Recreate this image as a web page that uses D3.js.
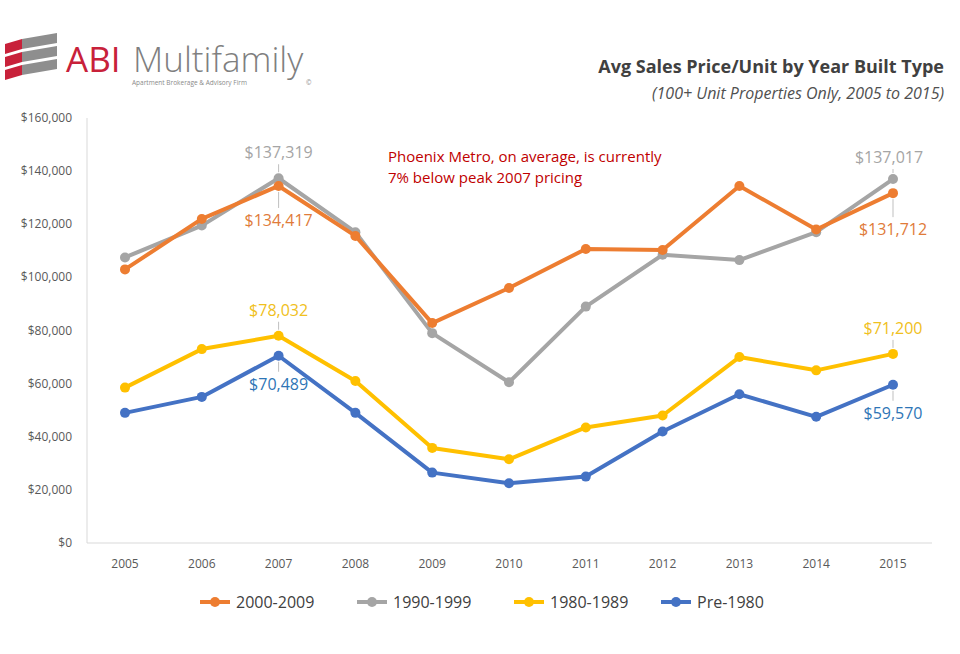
<!DOCTYPE html>
<html>
<head>
<meta charset="UTF-8">
<script src="https://d3js.org/d3.v7.min.js"></script>
<style>
  body { margin: 0; background: #fff; }
  text { font-family: "Open Sans", sans-serif; }
</style>
</head>
<body>
<svg class="chart"></svg>
<script>
var width = 960, height = 654;

var years = [2005, 2006, 2007, 2008, 2009, 2010, 2011, 2012, 2013, 2014, 2015];
var names = ["2000-2009", "1990-1999", "1980-1989", "Pre-1980"];
var colors = ["#ED7D31", "#A5A5A5", "#FFC000", "#4472C4"];
var labelColors = ["#E07B39", "#A5A5A5", "#F0C020", "#2E75B6"];
var s2000 = [103000, 122000, 134417, 115600, 82800, 96000, 110700, 110300, 134400, 118000, 131712];
var s1990 = [107500, 119500, 137319, 117000, 79000, 60500, 89000, 108500, 106500, 117000, 137017];
var s1980 = [58500, 73000, 78032, 61000, 35800, 31500, 43500, 48000, 70000, 65000, 71200];
var sPre = [49000, 55000, 70489, 49000, 26500, 22500, 25000, 42000, 56000, 47500, 59570];
var series = [s2000, s1990, s1980, sPre];
var yTicks = [0, 20000, 40000, 60000, 80000, 100000, 120000, 140000, 160000];

var svg = d3.select(".chart").attr("width", width).attr("height", height);

var x = d3.scalePoint().domain(years).range([125, 893]);
var y = d3.scaleLinear().domain([0, 160000]).range([543, 118]);

// logo
var logo = svg.append("g");
[0, 1, 2].forEach(function(i) {
  logo.append("path").attr("d", "M5," + (44 + i * 13) + " L22," + (39 + i * 13) + " L22," + (49 + i * 13) + " L5," + (54 + i * 13) + "Z").attr("fill", "#C8213A");
  logo.append("path").attr("d", "M22," + (39 + i * 13) + " L57," + (33 + i * 13) + " L57," + (43 + i * 13) + " L22," + (49 + i * 13) + "Z").attr("fill", "#8E8E8E");
});
logo.append("text").attr("x", 66).attr("y", 72).attr("font-size", 35).attr("fill", "#C8213A").text("ABI");
logo.append("text").attr("x", 133).attr("y", 72).attr("font-size", 35).attr("fill", "#7f7f7f").attr("font-weight", 300).text("Multifamily");
logo.append("text").attr("x", 132).attr("y", 85).attr("font-size", 6.5).attr("fill", "#8a8a8a").text("Apartment Brokerage & Advisory Firm");
logo.append("text").attr("x", 306).attr("y", 85).attr("font-size", 6.5).attr("fill", "#8a8a8a").text("©");

svg.append("text").attr("x", 944).attr("y", 73).attr("text-anchor", "end")
  .attr("font-size", 18).attr("font-weight", "bold").attr("fill", "#404040")
  .text("Avg Sales Price/Unit by Year Built Type");
svg.append("text").attr("x", 944).attr("y", 99).attr("text-anchor", "end")
  .attr("font-size", 16).attr("font-style", "italic").attr("fill", "#505050")
  .text("(100+ Unit Properties Only, 2005 to 2015)");

// axes
svg.append("line").attr("x1", 87).attr("x2", 87).attr("y1", 118).attr("y2", 543).attr("stroke", "#d9d9d9");
svg.append("line").attr("x1", 87).attr("x2", 932).attr("y1", 543).attr("y2", 543).attr("stroke", "#d9d9d9");
svg.selectAll(".yt").data(yTicks).enter().append("text")
  .attr("x", 72).attr("y", function(d) { return y(d) + 4; }).attr("text-anchor", "end")
  .attr("font-size", 12).attr("fill", "#595959")
  .text(function(d) { return d3.format("$,")(d); });
svg.selectAll(".xt").data(years).enter().append("text")
  .attr("x", function(d) { return x(d); }).attr("y", 568).attr("text-anchor", "middle")
  .attr("font-size", 12).attr("fill", "#595959").text(function(d) { return d; });

// lines, drawn back to front
var line = d3.line().x(function(d, i) { return x(years[i]); }).y(function(d) { return y(d); });
[3, 2, 1, 0].forEach(function(k) {
  svg.append("path").datum(series[k]).attr("d", line).attr("fill", "none")
    .attr("stroke", colors[k]).attr("stroke-width", 4).attr("stroke-linejoin", "round");
  svg.selectAll(".m" + k).data(series[k]).enter().append("circle")
    .attr("cx", function(d, i) { return x(years[i]); }).attr("cy", function(d) { return y(d); })
    .attr("r", 5).attr("fill", colors[k]);
});

// data labels: [series, year index, dx, dy]
var labels = [
  [1, 2, 0, -20], [0, 2, 0, 40], [1, 10, -4, -16], [0, 10, 0, 42],
  [2, 2, 0, -20], [3, 2, 0, 34], [2, 10, 0, -20], [3, 10, 0, 34]
];
labels.forEach(function(l) {
  var k = l[0], i = l[1];
  var v = series[k][i];
  svg.append("line").attr("x1", x(years[i])).attr("x2", x(years[i]))
    .attr("y1", y(v) + (l[3] < 0 ? -6 : 6)).attr("y2", y(v) + (l[3] < 0 ? l[3] + 6 : l[3] - 18))
    .attr("stroke", "#bfbfbf").attr("stroke-width", 1);
  svg.append("text").attr("x", x(years[i]) + l[2]).attr("y", y(v) + l[3])
    .attr("text-anchor", "middle").attr("font-size", 16).attr("fill", labelColors[k])
    .text(d3.format("$,")(v));
});

svg.append("text").attr("x", 388).attr("y", 162).attr("font-size", 15).attr("fill", "#C00000")
  .text("Phoenix Metro, on average, is currently");
svg.append("text").attr("x", 388).attr("y", 183).attr("font-size", 15).attr("fill", "#C00000")
  .text("7% below peak 2007 pricing");

// legend
var lx = [200, 357, 514, 661];
names.forEach(function(n, k) {
  var g = svg.append("g").attr("transform", "translate(" + lx[k] + ",602)");
  g.append("line").attr("x1", 0).attr("x2", 30).attr("stroke", colors[k]).attr("stroke-width", 4);
  g.append("circle").attr("cx", 15).attr("r", 5).attr("fill", colors[k]);
  g.append("text").attr("x", 36).attr("y", 6).attr("font-size", 16).attr("fill", "#404040").text(n);
});
</script>
</body>
</html>
